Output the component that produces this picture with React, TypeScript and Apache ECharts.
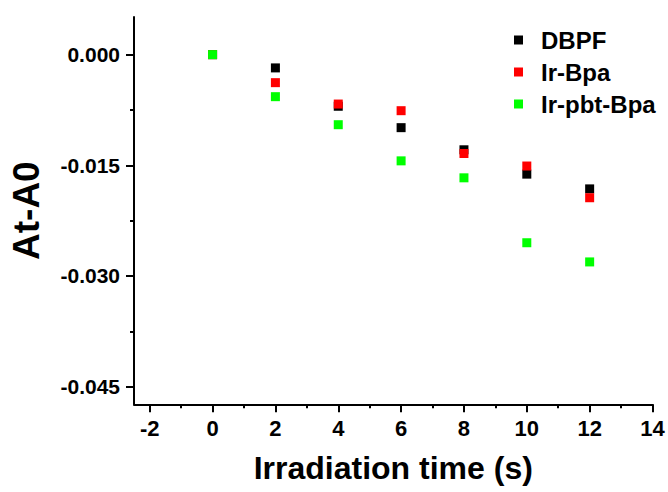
import React, { useEffect, useRef } from "react";
import * as echarts from "echarts";

const timePoints = [0, 2, 4, 6, 8, 10, 12];
const dbpf = [0, -0.0018, -0.0070, -0.0099, -0.0129, -0.0162, -0.0182];
const irBpa = [0, -0.0038, -0.0067, -0.0076, -0.0134, -0.0151, -0.0194];
const irPbtBpa = [0, -0.0057, -0.0095, -0.0144, -0.0167, -0.0255, -0.0281];

const seriesNames = ["DBPF", "Ir-Bpa", "Ir-pbt-Bpa"];
const seriesColors = ["#000000", "#ff0000", "#00ff00"];

const xMajorTicks = [-2, 0, 2, 4, 6, 8, 10, 12, 14];
const xMinorTicks = [-1, 1, 3, 5, 7, 9, 11, 13];
const yMajorTicks = [0, -0.015, -0.03, -0.045];
const yMinorTicks = [-0.0075, -0.0225, -0.0375];

const X_MIN = -2.5;
const X_MAX = 14;
const Y_MIN = -0.0474;
const Y_MAX = 0.0051;

const FONT = "'Liberation Sans', Arial, sans-serif";

export default function App() {
  const ref = useRef<HTMLDivElement>(null);

  useEffect(() => {
    if (!ref.current) return;
    const chart = echarts.init(ref.current, undefined, { renderer: "svg" });
    const toPairs = (vals: number[]) => timePoints.map((t, i) => [t, vals[i]]);
    const allVals = [dbpf, irBpa, irPbtBpa];

    const axisLine = { show: true, onZero: false, lineStyle: { color: "#000", width: 2 } };

    chart.setOption({
      animation: false,
      backgroundColor: "#ffffff",
      grid: { left: 132.7, right: 15.5, top: 17, bottom: 87.7 },
      legend: {
        orient: "vertical",
        left: 509,
        top: 23,
        itemWidth: 9,
        itemHeight: 9,
        itemGap: 8,
        icon: "rect",
        data: seriesNames,
        textStyle: {
          fontFamily: FONT,
          fontSize: 24,
          fontWeight: "bold",
          color: "#000",
          padding: [0, 0, 0, 13],
        },
      },
      xAxis: [
        {
          type: "value",
          min: X_MIN,
          max: X_MAX,
          name: "Irradiation time (s)",
          nameLocation: "middle",
          nameGap: 48,
          nameTextStyle: { fontFamily: FONT, fontSize: 32, fontWeight: "bold", color: "#000" },
          axisLine,
          splitLine: { show: false },
          axisTick: { show: true, inside: false, length: 8, lineStyle: { width: 2, color: "#000" }, customValues: xMajorTicks },
          axisLabel: {
            show: true,
            margin: 13,
            fontFamily: FONT,
            fontSize: 22,
            fontWeight: "bold",
            color: "#000",
            customValues: xMajorTicks,
            formatter: (v: number) => String(v),
          },
        },
        {
          type: "value",
          min: X_MIN,
          max: X_MAX,
          position: "bottom",
          offset: 0,
          axisLine: { show: false, onZero: false },
          splitLine: { show: false },
          axisLabel: { show: false },
          axisTick: { show: true, inside: false, length: 4, lineStyle: { width: 2, color: "#000" }, customValues: xMinorTicks },
        },
      ],
      yAxis: [
        {
          type: "value",
          min: Y_MIN,
          max: Y_MAX,
          name: "At-A0",
          nameLocation: "middle",
          nameGap: 89,
          nameRotate: 90,
          nameTextStyle: { fontFamily: FONT, fontSize: 37, fontWeight: "bold", color: "#000" },
          axisLine,
          splitLine: { show: false },
          axisTick: { show: true, inside: false, length: 8, lineStyle: { width: 2, color: "#000" }, customValues: yMajorTicks },
          axisLabel: {
            show: true,
            margin: 14,
            fontFamily: FONT,
            fontSize: 21,
            fontWeight: "bold",
            color: "#000",
            customValues: yMajorTicks,
            formatter: (v: number) => v.toFixed(3),
          },
        },
        {
          type: "value",
          min: Y_MIN,
          max: Y_MAX,
          position: "left",
          offset: 0,
          axisLine: { show: false, onZero: false },
          splitLine: { show: false },
          axisLabel: { show: false },
          axisTick: { show: true, inside: false, length: 4, lineStyle: { width: 2, color: "#000" }, customValues: yMinorTicks },
        },
      ],
      series: seriesNames.map((name, i) => ({
        name,
        type: "scatter",
        xAxisIndex: 0,
        yAxisIndex: 0,
        symbol: "rect",
        symbolSize: 9,
        itemStyle: { color: seriesColors[i], opacity: 1 },
        emphasis: { disabled: true },
        data: toPairs(allVals[i]),
        z: 2 + i,
      })),
    });

    return () => chart.dispose();
  }, []);

  return (
    <div
      ref={ref}
      style={{ position: "fixed", left: 0, top: 0, width: 668, height: 492, background: "#fff" }}
    />
  );
}
